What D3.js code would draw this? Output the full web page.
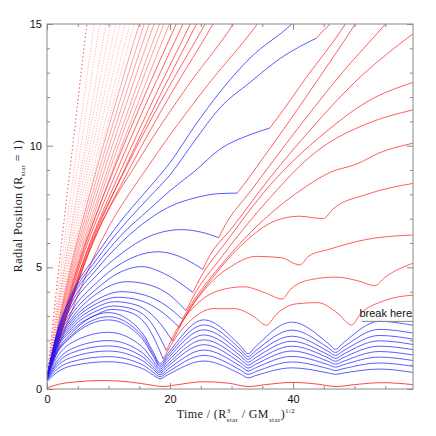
<!DOCTYPE html>
<html><head><meta charset="utf-8">
<script src="https://cdn.jsdelivr.net/npm/d3@7"></script>
<style>body{margin:0;background:#fff}svg{display:block}</style>
</head><body>
<svg id="chart" width="436" height="436"></svg>
<script>
// ---------- data ----------
const xMajorTicks = [0, 20, 40];
const xMinorTicks = [5, 10, 15, 25, 30, 35, 45, 50, 55];
const yMajorTicks = [0, 5, 10, 15];
const yMinorTicks = [1,2,3,4,6,7,8,9,11,12,13,14];

// escaping fan: time at which each line reaches r=15, and r at 1/4, 1/2, 3/4 of that time
const fanTop = [6.5,7.7,8.6,9.6,10.4,11.2,11.9,12.7,13.5,14.2,15.0,15.8,16.6,17.4,18.3,19.0,19.9,21.0,22.1,23.3,24.3,25.7,27.0,30.3,34.2];
const fanR25 = [4.31,4.31,4.31,4.31,4.59,4.59,4.59,4.59,4.59,4.59,4.90,4.90,4.90,4.90,4.90,4.90,4.90,5.22,5.22,5.22,5.22,5.57,5.57,6.09,5.93];
const fanR50 = [7.96,7.96,7.96,7.96,8.23,8.23,8.23,8.23,8.23,8.23,8.50,8.50,8.50,8.50,8.50,8.50,8.50,8.78,8.78,8.78,8.78,9.09,9.09,9.51,9.39];
const fanR75 = [11.51,11.51,11.51,11.51,11.67,11.67,11.67,11.67,11.67,11.67,11.83,11.83,11.83,11.83,11.83,11.83,11.83,11.99,11.99,11.99,11.99,12.17,12.17,12.40,12.34];
const fanStart = 0.4;

// bound trajectories that are hit by the outgoing front (blue before the kink, red after)
const curveA  = [[0,0.5],[1.5,2.2],[4,3.9],[8,5.5],[12,6.9],[16.7,8.3],[20,9.3],[24,10.8],[28.1,12.2],[33,13.6],[39.8,15],[41,15.3]];
const curveB  = [[0,0.5],[1.5,2.15],[4,3.8],[8,5.3],[12,6.6],[16.7,7.9],[20,8.8],[24,10.2],[28.1,11.55],[33,12.6],[38,13.6],[43.8,14.42],[44.8,14.7],[46,15],[46.5,15.2]];
const curveC  = [[0,0.5],[1.5,2.1],[4,3.7],[8,5.1],[12,6.3],[16.7,7.4],[20,8.15],[24,8.95],[28.1,9.85],[33,10.45],[36.2,10.72],[37.5,11.15],[42,12.75],[48.5,15],[49,15.2]];
const curveD  = [[0,0.5],[1.5,2.05],[4,3.55],[8,4.9],[12,6.0],[16.7,7.0],[20,7.5],[24,7.85],[28,8.03],[30.9,8.05],[32,8.4],[34,9.1],[38.4,10.65],[44,12.7],[50.1,15],[50.6,15.2]];
const curveE  = [[0,0.5],[1.5,2.0],[4,3.4],[8,4.65],[12,5.55],[16.7,6.28],[21.9,6.55],[25,6.45],[27.9,6.22],[29,6.75],[33,8.1],[40.6,10.65],[48,13.0],[55,15],[56,15.3]];
const curveF  = [[0,0.5],[1.5,1.95],[4,3.2],[8,4.35],[12,5.15],[18.1,5.64],[21.5,5.45],[25.3,4.92],[26.5,5.5],[30,6.6],[36,8.6],[42.8,10.65],[50,12.6],[59.5,14.6]];
const curveG  = [[0,0.5],[1.5,1.9],[4,3.05],[8,4.1],[11.5,4.75],[15.4,5.03],[19,4.75],[23.7,3.97],[25,4.6],[29,6.0],[36,8.3],[45.5,10.6],[52,11.8],[59.5,12.6]];
const curveH  = [[0,0.5],[1.5,1.85],[4,2.9],[8,3.9],[13,4.41],[17,4.25],[20,3.85],[22.6,3.22],[24,3.9],[28,5.3],[35,7.5],[44,9.8],[52,10.9],[59.5,11.47]];
const curveH2 = [[0,0.5],[1.5,1.8],[4,2.8],[8,3.65],[12.2,4.0],[16,3.85],[19.5,3.4],[22.0,2.87],[23.5,3.5],[28,5.0],[35.2,6.95],[42,8.3],[46,8.9],[50.4,9.25],[54,9.7],[59.5,10.1]];
const curveI  = [[0,0.5],[1.5,1.75],[4,2.7],[8,3.5],[11.5,3.77],[15,3.65],[18.5,3.2],[21.5,2.53],[23,3.2],[27,4.6],[32,6.0],[37,6.9],[41,7.1],[44.9,7.0],[46.5,7.4],[52,8.0],[59.5,8.45]];
const curveJ  = [[0,0.5],[1.5,1.7],[4,2.6],[8,3.35],[11,3.59],[14.5,3.45],[17.5,2.95],[20.4,1.98],[22,2.75],[26,4.2],[30,5.05],[34,5.45],[38,5.4],[41.1,5.1],[42.5,5.45],[46,5.75],[52,6.15],[59.5,6.33]];
const curveK  = [[0,0.5],[1.5,1.65],[4,2.5],[8,3.2],[10.8,3.41],[14,3.28],[17,2.7],[19.4,1.58],[21,2.4],[24,3.4],[28,4.05],[32,4.2],[35.5,3.95],[38.2,3.7],[39.6,4.1],[43,4.5],[47,4.6],[50.5,4.45],[53.3,4.25],[55,4.6],[59.5,5.17]];
const curveL  = [[0,0.5],[1.5,1.6],[4,2.4],[8,3.05],[10.5,3.27],[13.5,3.15],[16.5,2.5],[18.9,1.23],[20.5,1.95],[23.5,2.85],[27,3.3],[30.5,3.3],[33.5,3.0],[35.7,2.62],[37.2,3.05],[40.5,3.5],[44,3.55],[47.3,3.1],[49.5,2.63],[51,3.1],[54.5,3.6],[59.5,3.86]];
const kinkedCurves = [curveA,curveB,curveC,curveD,curveE,curveF,curveG,curveH,curveH2,curveI,curveJ,curveK,curveL];
const kinkTimes    = [99,43.8,36.2,30.9,27.9,25.3,23.7,22.6,22.0,21.5,20.4,19.4,18.9];

// oscillating bound bundle (all blue): shared sample times + radii per line
const bundleT = [0,1.5,4,10,15.5,17.3,18.4,19.6,25.5,31.5,32.7,33.9,39.8,45.7,46.9,48.1,54.0,59.5];
const bundleR = [
  [0.55,1.5,2.3,3.14,2.30,1.51,1.05,1.44,2.84,1.76,1.45,1.74,2.75,1.88,1.63,1.88,2.78,2.62],
  [0.5,1.45,2.2,2.97,2.17,1.41,0.97,1.34,2.63,1.62,1.33,1.57,2.42,1.7,1.5,1.71,2.45,2.3],
  [0.48,1.4,2.15,2.84,2.06,1.33,0.9,1.24,2.43,1.49,1.22,1.43,2.17,1.55,1.38,1.56,2.2,2.05],
  [0.45,1.25,1.9,2.33,1.73,1.15,0.82,1.13,2.22,1.35,1.1,1.29,1.96,1.41,1.26,1.42,1.98,1.83],
  [0.42,1.1,1.65,1.99,1.49,1.02,0.74,1.02,2.02,1.21,0.98,1.15,1.76,1.28,1.14,1.28,1.76,1.62],
  [0.4,1.0,1.48,1.77,1.33,0.9,0.66,0.92,1.82,1.07,0.86,1.01,1.56,1.14,1.02,1.13,1.54,1.4],
  [0.37,0.9,1.3,1.56,1.17,0.8,0.58,0.8,1.6,0.93,0.74,0.87,1.34,1.0,0.9,0.99,1.31,1.17],
  [0.34,0.78,1.12,1.33,1.0,0.68,0.5,0.69,1.38,0.77,0.6,0.71,1.11,0.84,0.76,0.83,1.07,0.93],
  [0.3,0.66,0.95,1.12,0.84,0.57,0.42,0.58,1.15,0.61,0.46,0.55,0.87,0.66,0.6,0.65,0.82,0.68]
];

// innermost red trajectory near the star
const innerRed = [[0,0.05],[2,0.2],[5,0.3],[9,0.35],[13,0.3],[16.5,0.18],[18.8,0.1],[21,0.17],[25.5,0.3],[29.5,0.24],[32.8,0.1],[35.5,0.18],[40,0.27],[44,0.2],[47,0.1],[50,0.18],[54.5,0.26],[59.5,0.18]];

const noteText = "break here";
const noteR = 2.78, noteT0 = 51.2;

// ---------- drawing ----------
const svg = d3.select("#chart");
const x = d3.scaleLinear().domain([0, 59.5]).range([47, 413]);
const y = d3.scaleLinear().domain([0, 15]).range([389, 24]);

svg.append("defs").append("clipPath").attr("id","plot")
  .append("rect").attr("x",47).attr("y",24).attr("width",366).attr("height",365);

const plot = svg.append("g").attr("clip-path","url(#plot)");
const line = d3.line().x(d=>x(d[0])).y(d=>y(d[1])).curve(d3.curveMonotoneX);

const BLUE = "#1a1aff", RED = "#ff1a1a";

// fan
fanTop.forEach((T,i)=>{
  const pts = [[0,fanStart],[T*0.25,fanR25[i]],[T*0.5,fanR50[i]],[T*0.75,fanR75[i]],[T,15],[T*1.05,15.6]];
  let op, dash = null;
  if (T < 7) { op = 0.85; dash = "1.3,2.6"; }
  else if (T < 15) { op = 0.32; dash = "1.2,1.4"; }
  else if (T < 20) { op = 0.42; }
  else { op = 0.68; }
  plot.append("path").attr("d", line(pts)).attr("fill","none")
    .attr("stroke", RED).attr("stroke-opacity", op).attr("stroke-width", 1)
    .attr("stroke-dasharray", dash);
});

// bundle
bundleR.forEach(rs=>{
  const pts = bundleT.map((t,i)=>[t, rs[i]]);
  plot.append("path").attr("d", line(pts)).attr("fill","none")
    .attr("stroke", BLUE).attr("stroke-opacity", 0.7).attr("stroke-width", 1);
});

// kinked curves
kinkedCurves.forEach((pts,i)=>{
  const k = kinkTimes[i];
  const bl = pts.filter(p=>p[0] <= k), rd = pts.filter(p=>p[0] >= k);
  plot.append("path").attr("d", line(bl)).attr("fill","none")
    .attr("stroke", BLUE).attr("stroke-opacity", 0.72).attr("stroke-width", 1);
  if (rd.length > 1)
    plot.append("path").attr("d", line(rd)).attr("fill","none")
      .attr("stroke", RED).attr("stroke-opacity", 0.7).attr("stroke-width", 1);
});

plot.append("path").attr("d", line(innerRed)).attr("fill","none")
  .attr("stroke", RED).attr("stroke-opacity", 0.8).attr("stroke-width", 1);

// axes
const AX = "#8a8a8a";
function styleAxis(g){ g.select(".domain").remove(); g.selectAll("line").attr("stroke", AX);
  g.selectAll("text").attr("fill","#111").style("font-family","'Liberation Sans', Arial, sans-serif").style("font-size","11px"); }

svg.append("g").attr("transform","translate(0,389)")
  .call(d3.axisBottom(x).tickValues(xMajorTicks).tickSize(-6).tickPadding(6).tickFormat(d3.format("d"))).call(styleAxis);
svg.append("g").attr("transform","translate(0,389)")
  .call(d3.axisBottom(x).tickValues(xMinorTicks).tickSize(-3).tickFormat("")).call(styleAxis);
svg.append("g").attr("transform","translate(0,24)")
  .call(d3.axisTop(x).tickValues(xMajorTicks).tickSize(-6).tickFormat("")).call(styleAxis);
svg.append("g").attr("transform","translate(0,24)")
  .call(d3.axisTop(x).tickValues(xMinorTicks).tickSize(-3).tickFormat("")).call(styleAxis);
svg.append("g").attr("transform","translate(47,0)")
  .call(d3.axisLeft(y).tickValues(yMajorTicks).tickSize(-6).tickPadding(5).tickFormat(d3.format("d"))).call(styleAxis);
svg.append("g").attr("transform","translate(47,0)")
  .call(d3.axisLeft(y).tickValues(yMinorTicks).tickSize(-3).tickFormat("")).call(styleAxis);
svg.append("g").attr("transform","translate(413,0)")
  .call(d3.axisRight(y).tickValues(yMajorTicks).tickSize(-6).tickFormat("")).call(styleAxis);
svg.append("g").attr("transform","translate(413,0)")
  .call(d3.axisRight(y).tickValues(yMinorTicks).tickSize(-3).tickFormat("")).call(styleAxis);

svg.append("rect").attr("x",47).attr("y",24).attr("width",366).attr("height",365)
  .attr("fill","none").attr("stroke",AX).attr("stroke-width",1);

// note
svg.append("line").attr("x1", x(noteT0)).attr("x2", x(59.5)).attr("y1", y(noteR)).attr("y2", y(noteR))
  .attr("stroke", AX).attr("stroke-width", 1);
svg.append("text").attr("x", x(59.5)-1).attr("y", y(noteR)-4).attr("text-anchor","end")
  .style("font-family","'Liberation Sans', Arial, sans-serif").style("font-size","11px").attr("fill","#111")
  .text(noteText);

// axis titles
const serif = "'Liberation Serif','DejaVu Serif',serif";
const xt = svg.append("text").attr("x", 236).attr("y", 418).attr("text-anchor","middle")
  .style("font-family", serif).style("font-size","12px").attr("fill","#222").style("letter-spacing","0.4px");
xt.append("tspan").text("Time / (R");
xt.append("tspan").attr("dy",-5).style("font-size","7px").text("3");
xt.append("tspan").attr("dx",-4).attr("dy",9).style("font-size","7px").text("star");
xt.append("tspan").attr("dy",-4).text(" / GM");
xt.append("tspan").attr("dy",4).style("font-size","7px").text("star");
xt.append("tspan").attr("dy",-4).text(")");
xt.append("tspan").attr("dy",-5).style("font-size","7px").text("1/2");

const yt = svg.append("text").attr("transform","translate(22,206) rotate(-90)").attr("text-anchor","middle")
  .style("font-family", serif).style("font-size","12px").attr("fill","#222").style("letter-spacing","0.4px");
yt.append("tspan").text("Radial Position (R");
yt.append("tspan").attr("dy",3).style("font-size","7px").text("star");
yt.append("tspan").attr("dy",-3).text(" = 1)");
</script>
</body></html>
